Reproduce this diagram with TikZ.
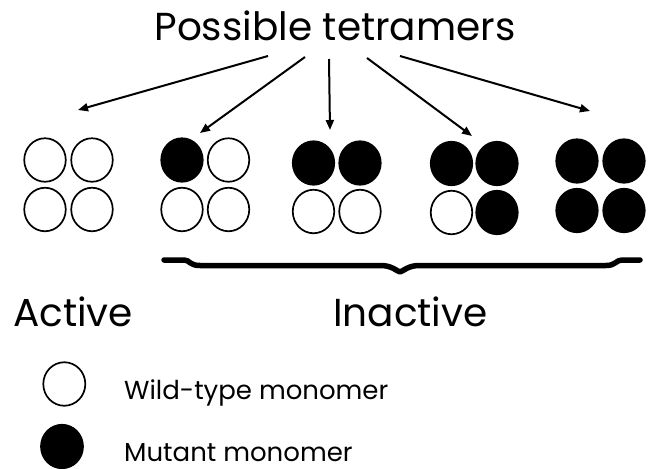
\documentclass[tikz,border=0pt]{standalone}
\usepackage{fontspec}
\setmainfont{Poppins}
\usetikzlibrary{shapes.geometric,arrows.meta}
\begin{document}
\begin{tikzpicture}[x=1pt,y=-1pt,
  mono/.style={ellipse,draw=black,line width=1.7pt,inner sep=0pt,minimum width=41.5pt,minimum height=43.5pt},
  wt/.style={mono,fill=white},
  mut/.style={mono,fill=black},
  big/.style={font=\fontsize{39}{41}\selectfont,inner sep=0pt},
  small/.style={font=\fontsize{26}{28}\selectfont,inner sep=0pt},
  arr/.style={line width=2pt,-{Triangle[length=10pt,width=8pt]}}]
\useasboundingbox (0,0) rectangle (654,469);
% title
\node[big,anchor=base] (title) at (335,40) {Possible tetramers};
% arrow coordinates
\coordinate (s1) at (268,56); \coordinate (e1) at (78,110);
\coordinate (s2) at (305,57); \coordinate (e2) at (200,133);
\coordinate (s3) at (329,59); \coordinate (e3) at (330,130);
\coordinate (s4) at (367,58); \coordinate (e4) at (472,136);
\coordinate (s5) at (400,56); \coordinate (e5) at (590,111);
\draw[arr] (s1) -- (e1);
\draw[arr] (s2) -- (e2);
\draw[arr] (s3) -- (e3);
\draw[arr] (s4) -- (e4);
\draw[arr] (s5) -- (e5);
% group 1
\node[wt] (g1a) at (45,160) {};
\node[wt] (g1b) at (92,160) {};
\node[wt] (g1c) at (45,209.5) {};
\node[wt] (g1d) at (92,209.5) {};
% group 2
\node[mut] (g2a) at (182,160) {};
\node[wt] (g2b) at (228.5,160) {};
\node[wt] (g2c) at (182,209.5) {};
\node[wt] (g2d) at (228.5,209.5) {};
% group 3
\node[mut] (g3a) at (313.5,163) {};
\node[mut] (g3b) at (360,163) {};
\node[wt] (g3c) at (313.5,211.5) {};
\node[wt] (g3d) at (360,211.5) {};
% group 4
\node[mut] (g4a) at (451.5,163.5) {};
\node[mut] (g4b) at (497,163.5) {};
\node[wt] (g4c) at (451.5,212.5) {};
\node[mut] (g4d) at (497,212.5) {};
% group 5
\node[mut] (g5a) at (577,161) {};
\node[mut] (g5b) at (624,161) {};
\node[mut] (g5c) at (577,210.5) {};
\node[mut] (g5d) at (624,210.5) {};
% brace
\draw[line width=5.5pt,line cap=round,line join=round]
  (164,260) -- (184,260) .. controls (190,260) and (189,265.5) .. (200,265.5)
  -- (382,265.5) .. controls (392,266) and (396,270.5) .. (400,272)
  .. controls (404,270.5) and (408,266) .. (418,265.5)
  -- (606,265.5) .. controls (616,265.5) and (616,260) .. (622,260) -- (640,260);
% labels
\node[big,anchor=base west] (active) at (13,326) {Active};
\node[big,anchor=base west] (inactive) at (333,326.5) {Inactive};
% legend
\node[wt,minimum width=42pt,minimum height=43.5pt] (lw) at (64.3,384) {};
\node[mut,minimum width=42pt,minimum height=43.5pt] (lm) at (62,446.5) {};
\node[small,anchor=base west] (lwt) at (124,399) {Wild-type monomer};
\node[small,anchor=base west] (lmt) at (124,461) {Mutant monomer};
\end{tikzpicture}
\end{document}
